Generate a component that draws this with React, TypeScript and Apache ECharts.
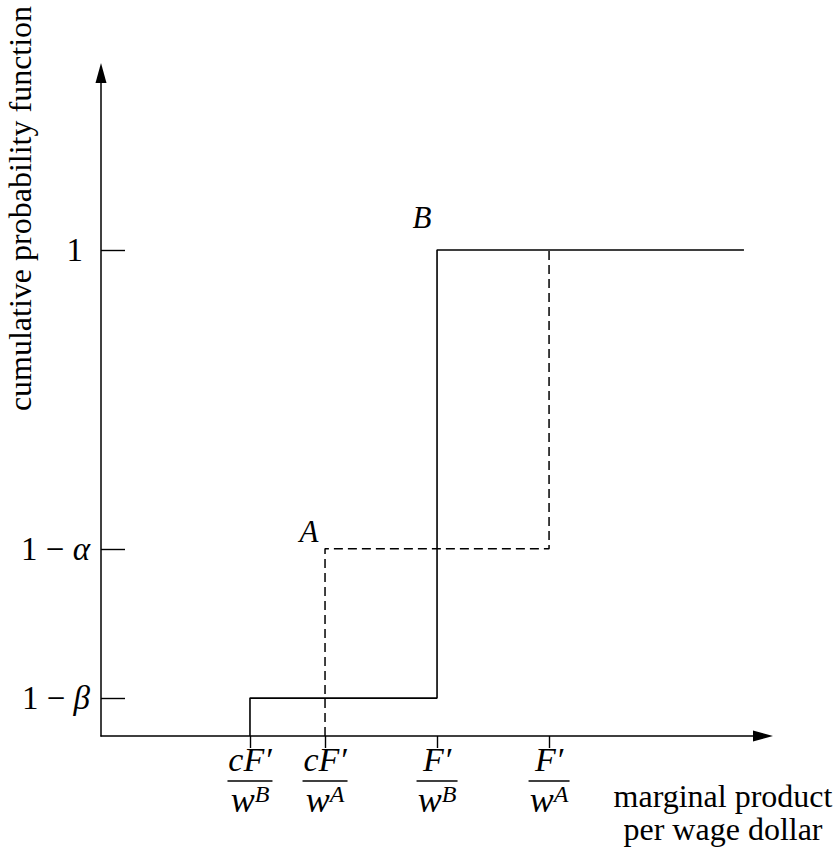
import React, { useEffect, useRef } from "react";
import * as echarts from "echarts";

// ---- data ----
const xTickValues = [1.33, 2, 3, 4];
const xTickNumerators = ["cF′", "cF′", "F′", "F′"];
const xTickSuperscripts = ["B", "A", "B", "A"];
const yTickValues = [0.078, 0.385, 1];
const yTickGreek = ["β", "α", ""];

const seriesBX = [1.33, 1.33, 3, 3, 5.74];
const seriesBY = [0, 0.078, 0.078, 1, 1];
const seriesAX = [2, 2, 4, 4];
const seriesAY = [0, 0.385, 0.385, 1];

const xAxisName = "marginal product\nper wage dollar";
const yAxisName = "cumulative probability function";

const FONT = "'Liberation Serif', 'Times New Roman', serif";

function idxOf(arr: number[], v: number) {
  for (let i = 0; i < arr.length; i++) if (Math.abs(arr[i] - v) < 1e-6) return i;
  return -1;
}

export default function App() {
  const ref = useRef<HTMLDivElement>(null);
  useEffect(() => {
    if (!ref.current) return;
    const chart = echarts.init(ref.current, null, { renderer: "svg" });
    const pairs = (xs: number[], ys: number[]) => xs.map((x, i) => [x, ys[i]]);
    chart.setOption({
      animation: false,
      backgroundColor: "#fff",
      grid: {
        left: 101,
        top: 73,
        right: 72,
        bottom: 112,
        containLabel: false,
        outerBoundsMode: "none",
      },
      xAxis: {
        type: "value",
        min: 0,
        max: 5.91,
        splitLine: { show: false },
        axisLine: {
          show: true,
          lineStyle: { color: "#000", width: 1.5 },
          symbol: ["none", "triangle"],
          symbolSize: [11, 20],
        },
        axisTick: {
          show: true,
          inside: false,
          length: 12,
          customValues: xTickValues,
          lineStyle: { color: "#000", width: 1.4 },
        },
        axisLabel: {
          show: true,
          customValues: xTickValues,
          margin: 2,
          color: "#000",
          formatter: (v: number) => {
            const i = idxOf(xTickValues, v);
            if (i < 0) return "";
            const bar = xTickNumerators[i].length > 2 ? "bc" : "bf";
            return `{n|${xTickNumerators[i]}}\n{${bar}| }\n{d|w}{s|${xTickSuperscripts[i]}}`;
          },
          rich: {
            n: { fontFamily: FONT, fontStyle: "italic", fontSize: 34, lineHeight: 42, color: "#000" },
            bc: { width: 45, height: 1.5, backgroundColor: "#000", fontSize: 1, lineHeight: 2 },
            bf: { width: 41, height: 1.5, backgroundColor: "#000", fontSize: 1, lineHeight: 2 },
            d: { fontFamily: FONT, fontStyle: "italic", fontSize: 36, lineHeight: 36, color: "#000" },
            s: { fontFamily: FONT, fontStyle: "italic", fontSize: 24, lineHeight: 30, verticalAlign: "top", color: "#000" },
          },
        },
        name: xAxisName,
        nameLocation: "end",
        nameGap: -40,
        nameMoveOverlap: false,
        nameTextStyle: {
          fontFamily: FONT,
          fontSize: 32,
          color: "#000",
          align: "center",
          verticalAlign: "top",
          lineHeight: 33,
          padding: [43, 0, 0, 0],
        },
      },
      yAxis: {
        type: "value",
        min: 0,
        max: 1.364,
        splitLine: { show: false },
        axisLine: {
          show: true,
          lineStyle: { color: "#000", width: 1.5 },
          symbol: ["none", "triangle"],
          symbolSize: [11, 20],
        },
        axisTick: {
          show: true,
          inside: true,
          length: 24,
          customValues: yTickValues,
          lineStyle: { color: "#000", width: 1.4 },
        },
        axisLabel: {
          show: true,
          customValues: yTickValues,
          margin: 11,
          color: "#000",
          formatter: (v: number) => {
            const i = idxOf(yTickValues, v);
            if (i < 0) return "";
            return yTickGreek[i] ? `{t|1 − }{g|${yTickGreek[i]}}` : `{t|1}{p| }`;
          },
          rich: {
            t: { fontFamily: FONT, fontSize: 33, color: "#000" },
            g: { fontFamily: FONT, fontStyle: "italic", fontSize: 33, color: "#000" },
            p: { fontFamily: FONT, fontSize: 33, width: 7 },
          },
        },
        name: yAxisName,
        nameLocation: "middle",
        nameRotate: 90,
        nameGap: 65,
        nameMoveOverlap: false,
        nameTextStyle: {
          fontFamily: FONT,
          fontSize: 32,
          color: "#000",
          padding: [0, 0, 0, 392],
        },
      },
      series: [
        {
          name: "B",
          type: "line",
          data: pairs(seriesBX, seriesBY),
          showSymbol: false,
          symbol: "none",
          lineStyle: { color: "#000", width: 1.6, type: "solid" },
          z: 3,
        },
        {
          name: "A",
          type: "line",
          data: pairs(seriesAX, seriesAY),
          showSymbol: false,
          symbol: "none",
          lineStyle: { color: "#000", width: 1.5, type: [9, 5] },
          z: 2,
        },
        {
          name: "labels",
          type: "scatter",
          symbol: "circle",
          symbolSize: 1,
          itemStyle: { color: "rgba(255,255,255,0)" },
          data: [
            {
              value: [seriesBX[3], seriesBY[3]],
              label: { show: true, formatter: "B", position: "inside", offset: [-15, -32] },
            },
            {
              value: [seriesAX[1], seriesAY[1]],
              label: { show: true, formatter: "A", position: "inside", offset: [-16, -17] },
            },
          ],
          label: {
            show: true,
            fontFamily: FONT,
            fontStyle: "italic",
            fontSize: 31,
            color: "#000",
            opacity: 1,
            textBorderWidth: 0,
          },
          emphasis: { disabled: true },
          z: 4,
        },
      ],
    });
    return () => chart.dispose();
  }, []);
  return (
    <div
      ref={ref}
      style={{ position: "absolute", left: 0, top: 0, width: 835, height: 848, background: "#fff" }}
    />
  );
}
